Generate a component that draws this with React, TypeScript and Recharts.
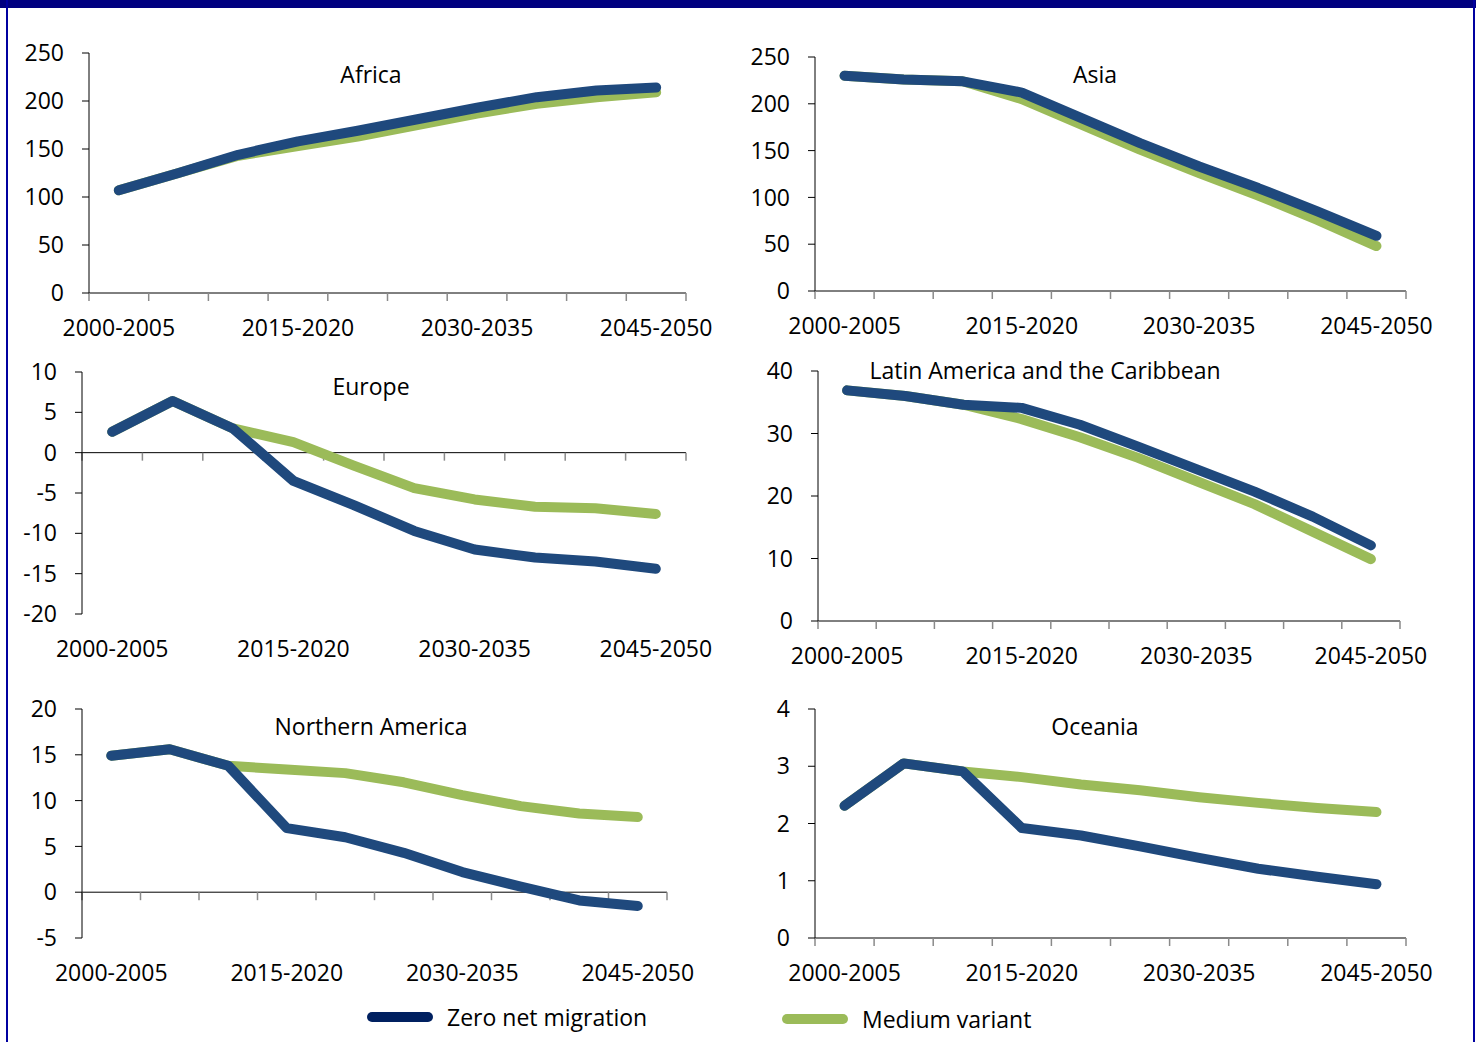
import React from 'react';
import { LineChart, Line, XAxis, YAxis, ReferenceLine } from 'recharts';

const periods = [
  '2000-2005', '2005-2010', '2010-2015', '2015-2020', '2020-2025',
  '2025-2030', '2030-2035', '2035-2040', '2040-2045', '2045-2050',
];
const labelTicks = [0.5, 3.5, 6.5, 9.5];

const africaZero = [107, 125, 144, 158, 169, 181, 193, 204, 211, 214];
const africaMedium = [107, 125, 143, 153, 163, 175, 187, 197, 204, 209];
const asiaZero = [230, 226, 224, 212, 185, 158, 133, 110, 85, 59];
const asiaMedium = [230, 226, 224, 205, 178, 151, 126, 102, 76, 48];
const europeZero = [2.6, 6.4, 3.0, -3.5, -6.5, -9.7, -12.0, -13.0, -13.5, -14.4];
const europeMedium = [2.6, 6.4, 3.0, 1.3, -1.6, -4.4, -5.8, -6.7, -6.9, -7.6];
const latamZero = [36.9, 36.0, 34.6, 34.1, 31.4, 27.9, 24.3, 20.7, 16.7, 12.1];
const latamMedium = [36.9, 36.0, 34.6, 32.3, 29.4, 26.1, 22.4, 18.7, 14.3, 9.9];
const northAmZero = [14.9, 15.6, 13.8, 7.0, 6.0, 4.3, 2.2, 0.6, -0.9, -1.5];
const northAmMedium = [14.9, 15.6, 13.8, 13.4, 13.0, 12.0, 10.6, 9.4, 8.6, 8.2];
const oceaniaZero = [2.31, 3.05, 2.91, 1.92, 1.79, 1.6, 1.4, 1.21, 1.07, 0.94];
const oceaniaMedium = [2.31, 3.05, 2.91, 2.81, 2.68, 2.58, 2.46, 2.36, 2.27, 2.2];

const ticksAfrica = [0, 50, 100, 150, 200, 250];
const ticksEurope = [-20, -15, -10, -5, 0, 5, 10];
const ticksLatam = [0, 10, 20, 30, 40];
const ticksNorthAm = [-5, 0, 5, 10, 15, 20];
const ticksOceania = [0, 1, 2, 3, 4];

const ZERO_COLOR = '#1F497D';
const MEDIUM_COLOR = '#9BBB59';
const FONT = '"Open Sans", sans-serif';

const panels = [
  { title: 'Africa', zero: africaZero, medium: africaMedium, ticks: ticksAfrica, plot: { l: 89, r: 686, t: 53, b: 293 }, titleX: 371, titleY: 74 },
  { title: 'Asia', zero: asiaZero, medium: asiaMedium, ticks: ticksAfrica, plot: { l: 815, r: 1406, t: 57, b: 291 }, titleX: 1095, titleY: 74 },
  { title: 'Europe', zero: europeZero, medium: europeMedium, ticks: ticksEurope, plot: { l: 82, r: 686, t: 372, b: 614 }, titleX: 371, titleY: 386 },
  { title: 'Latin America and the Caribbean', zero: latamZero, medium: latamMedium, ticks: ticksLatam, plot: { l: 818, r: 1400, t: 371, b: 621 }, titleX: 1045, titleY: 370 },
  { title: 'Northern America', zero: northAmZero, medium: northAmMedium, ticks: ticksNorthAm, plot: { l: 82, r: 667, t: 709, b: 938 }, titleX: 371, titleY: 726 },
  { title: 'Oceania', zero: oceaniaZero, medium: oceaniaMedium, ticks: ticksOceania, plot: { l: 815, r: 1406, t: 709, b: 938 }, titleX: 1095, titleY: 726 },
];

const Y_W = 80;
const M_TOP = 20;
const M_RIGHT = 30;
const X_H = 52;
const TICK_PX = 8;

function Panel({ p }: { p: typeof panels[number] }) {
  const left = p.plot.l - Y_W;
  const top = p.plot.t - M_TOP;
  const width = p.plot.r - left + M_RIGHT;
  const height = p.plot.b - top + X_H;
  const dMin = p.ticks[0];
  const dMax = p.ticks[p.ticks.length - 1];
  const tickUnits = (TICK_PX * (dMax - dMin)) / (p.plot.b - p.plot.t);
  const data = periods.map((name, i) => ({ x: i + 0.5, name, zero: p.zero[i], medium: p.medium[i] }));

  return (
    <div style={{ position: 'absolute', left, top }}>
      <LineChart width={width} height={height} data={data} margin={{ top: M_TOP, right: M_RIGHT, bottom: 0, left: 0 }}>
        <XAxis
          type="number"
          dataKey="x"
          domain={[0, periods.length]}
          ticks={labelTicks}
          tickFormatter={(v: number) => periods[Math.floor(v)]}
          axisLine={false}
          tickLine={false}
          tickSize={0}
          tickMargin={27}
          height={X_H}
          interval={0}
          tick={{ fontSize: 23, fill: '#000', fontFamily: FONT }}
        />
        <YAxis
          domain={[dMin, dMax]}
          ticks={p.ticks}
          interval={0}
          width={Y_W}
          axisLine={{ stroke: '#000', strokeWidth: 1 }}
          tickLine={{ stroke: '#000', strokeWidth: 1 }}
          tickSize={7}
          tickMargin={18}
          tick={{ fontSize: 23, fill: '#000', fontFamily: FONT }}
        />
        <ReferenceLine y={0} stroke="#000" strokeWidth={1} ifOverflow="visible" />
        {periods.concat(['']).map((_, i) => (
          <ReferenceLine
            key={i}
            segment={[{ x: i, y: 0 }, { x: i, y: -tickUnits }]}
            stroke="#8a8a8a"
            strokeWidth={1.5}
            ifOverflow="visible"
          />
        ))}
        <Line
          type="linear"
          dataKey="medium"
          stroke={MEDIUM_COLOR}
          strokeWidth={10}
          strokeLinecap="round"
          strokeLinejoin="round"
          dot={false}
          isAnimationActive={false}
        />
        <Line
          type="linear"
          dataKey="zero"
          stroke={ZERO_COLOR}
          strokeWidth={10}
          strokeLinecap="round"
          strokeLinejoin="round"
          dot={false}
          isAnimationActive={false}
        />
      </LineChart>
      <div
        style={{
          position: 'absolute',
          left: p.titleX - left,
          top: p.titleY - top,
          transform: 'translate(-50%, -50%)',
          whiteSpace: 'nowrap',
          fontSize: 23,
          fontFamily: FONT,
          color: '#000',
        }}
      >
        {p.title}
      </div>
    </div>
  );
}

function LegendItem({ x, y, color, label }: { x: number; y: number; color: string; label: string }) {
  return (
    <div style={{ position: 'absolute', left: x, top: y - 16, height: 32, display: 'flex', alignItems: 'center' }}>
      <div style={{ width: 66, height: 10, borderRadius: 5, background: color }} />
      <span style={{ marginLeft: 14, fontSize: 23, fontFamily: FONT, color: '#000', whiteSpace: 'nowrap' }}>{label}</span>
    </div>
  );
}

export default function App() {
  return (
    <div style={{ position: 'absolute', left: 0, top: 0, width: 1476, height: 1042, background: '#fff', overflow: 'hidden' }}>
      <div style={{ position: 'absolute', left: 0, top: 0, width: 1476, height: 8, background: '#000080' }} />
      <div style={{ position: 'absolute', left: 6, top: 0, width: 2, height: 1042, background: '#0000a0' }} />
      <div style={{ position: 'absolute', left: 1473, top: 0, width: 2, height: 1042, background: '#0000a0' }} />
      {panels.map((p) => (
        <Panel key={p.title} p={p} />
      ))}
      <LegendItem x={367} y={1017} color="#002060" label="Zero net migration" />
      <LegendItem x={782} y={1019} color={MEDIUM_COLOR} label="Medium variant" />
    </div>
  );
}
